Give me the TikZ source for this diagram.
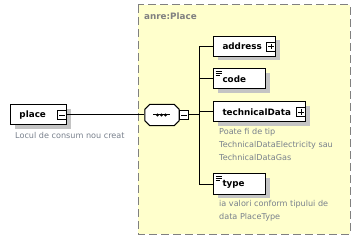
\documentclass[tikz,border=0pt]{standalone}
\usepackage{fontspec}
\setmainfont{DejaVu Sans}
\usetikzlibrary{shadows,positioning}
\definecolor{grpfill}{RGB}{255,255,204}
\definecolor{grpline}{RGB}{128,128,128}
\definecolor{notetext}{RGB}{120,128,140}
\definecolor{shade}{RGB}{196,196,196}
\tikzset{
  elem/.style={draw,fill=white,line width=1pt,anchor=west,minimum height=20pt,
    inner xsep=9pt,inner ysep=0pt,align=left,font=\fontsize{8.8}{10}\bfseries\selectfont,
    drop shadow={shadow xshift=4pt,shadow yshift=-4pt,fill=shade,opacity=1}},
  tog/.style={draw,fill=white,line width=0.8pt,minimum size=9pt,inner sep=0pt},
  minus/.style={tog,path picture={\draw[line width=0.8pt]
    ([xshift=1.8pt]path picture bounding box.west) -- ([xshift=-1.8pt]path picture bounding box.east);}},
  plus/.style={tog,path picture={\draw[line width=0.8pt]
    ([xshift=1.8pt]path picture bounding box.west) -- ([xshift=-1.8pt]path picture bounding box.east)
    ([yshift=-1.8pt]path picture bounding box.north) -- ([yshift=1.8pt]path picture bounding box.south);}},
  simple/.style={path picture={\foreach \d/\w in {2.5/6,4.5/6,6.5/4}
    \draw[line width=0.8pt] ([xshift=2pt,yshift=-\d pt]path picture bounding box.north west) -- ++(\w pt,0);}},
  note/.style={anchor=north west,align=left,text=notetext,inner sep=0pt,
    font=\fontsize{8.1}{12.8}\selectfont},
  link/.style={line width=1pt}
}
\begin{document}
\begin{tikzpicture}[x=1pt,y=-1pt]
\useasboundingbox (0,0) rectangle (361,240);
% complex type group
\draw[grpline,fill=grpfill,line width=1pt,dash pattern=on 8pt off 4pt] (138,5) rectangle (350,234);
\node[anchor=west,text=grpline,inner sep=0pt,font=\fontsize{8.8}{10}\bfseries\selectfont] (grp) at (144,16.5) {anre:Place};

\node[elem,text width=38pt] (place) at (10,115) {place};
\node[minus,anchor=east] (placeTog) at (place.east) {};
\node[note] (placeNote) at (15,132.5) {Locul de consum nou creat};

% sequence compositor
\node[minimum width=34pt,minimum height=21pt,inner sep=0pt] (seq) at (162,115) {};
\fill[shade,xshift=4pt,yshift=-4pt] ([xshift=5pt]seq.north west) -- ([xshift=-5pt]seq.north east)
  -- ([yshift=-5pt]seq.north east) -- ([yshift=5pt]seq.south east) -- ([xshift=-5pt]seq.south east)
  -- ([xshift=5pt]seq.south west) -- ([yshift=5pt]seq.south west) -- ([yshift=-5pt]seq.north west) -- cycle;
\draw[fill=white,line width=1pt] ([xshift=5pt]seq.north west) -- ([xshift=-5pt]seq.north east)
  -- ([yshift=-5pt]seq.north east) -- ([yshift=5pt]seq.south east) -- ([xshift=-5pt]seq.south east)
  -- ([xshift=5pt]seq.south west) -- ([yshift=5pt]seq.south west) -- ([yshift=-5pt]seq.north west) -- cycle;
\draw[line width=1pt] ([xshift=-9pt]seq.center) -- ([xshift=8pt]seq.center);
\foreach \dx in {-4.5,-0.5,3.5}
  \fill ([xshift=\dx pt]seq.center) circle (1.6pt);
\node[minus,anchor=west] (seqTog) at (seq.east) {};
\coordinate (bus) at (199,115);

\node[elem,text width=44pt] (address) at (213,46.5) {address};
\node[plus,anchor=east] (addressTog) at (address.east) {};
\node[elem,simple,text width=34pt] (code) at (213,79) {code};
\node[elem,text width=74pt] (techData) at (213,112) {technicalData};
\node[plus,anchor=east] (techDataTog) at (techData.east) {};
\node[note] (techDataNote) at (219,128.5) {Poate fi de tip\\TechnicalDataElectricity sau\\TechnicalDataGas};
\node[elem,simple,text width=34pt] (type) at (213,184) {type};
\node[note] (typeNote) at (219,200.5) {ia valori conform tipului de\\data PlaceType};

\draw[link] (placeTog.east) -- ([xshift=-0.5pt]seq.west);
\draw[link] (seqTog.east) -- (bus);
\draw[link] (bus |- address.west) -- (bus |- type.west);
\foreach \n in {address,code,techData,type}
  \draw[link] (bus |- \n.west) -- (\n.west);
\end{tikzpicture}
\end{document}
